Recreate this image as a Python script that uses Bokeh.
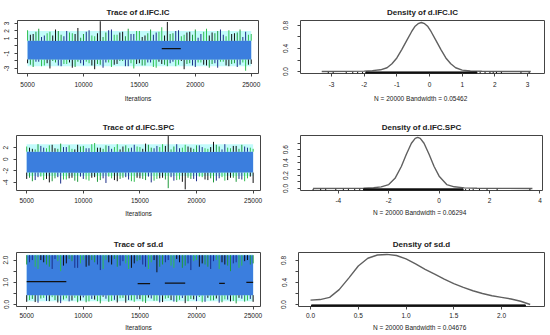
import numpy as np
from bokeh.plotting import figure
from bokeh.layouts import column, row
from bokeh.models import Range1d, FixedTicker
from bokeh.embed import file_html
from bokeh.resources import INLINE

FONT = "Liberation Sans"

# ---------------- data ----------------
ITER = list(range(5000, 25001, 500))            # sampled iterations (41)
ITER2 = list(range(5250, 24751, 500))           # in-between samples (40)
BAND_X = [5000, 10000, 15000, 20000, 25000]     # envelope sample points
TRACE_XTICKS = [5000, 10000, 15000, 20000, 25000]
TRACE_XLABELS = ["5000", "10000", "15000", "20000", "25000"]

# Trace of d.IFC.IC
IC_CYAN_TOP = [2.0, 2.0, 2.0, 2.0, 2.0]
IC_CYAN_BOT = [-2.7, -2.7, -2.7, -2.7, -2.7]
IC_BLUE_TOP = [0.7, 0.65, 0.7, 0.65, 0.7]
IC_BLUE_BOT = [-1.8, -1.85, -1.8, -1.85, -1.8]
IC_HI = [2.1, 1.6, 2.3, 1.4, 1.9, 2.2, 1.5, 2.0, 1.7, 2.4,
         1.6, 2.1, 1.3, 3.3, 1.8, 2.2, 1.5, 1.9, 2.3, 1.6,
         2.0, 1.4, 2.2, 1.8, 2.5, 3.2, 1.7, 2.1, 1.5, 1.9,
         2.2, 1.6, 2.3, 1.8, 2.0, 1.5, 2.1, 1.7, 2.2, 1.9,
         1.6]
IC_LO = [-2.3, -2.8, -2.1, -2.6, -3.0, -2.2, -2.7, -2.4, -2.9, -2.1,
         -2.6, -2.3, -3.1, -2.5, -2.2, -2.8, -2.4, -2.0, -2.7, -3.0,
         -2.3, -2.6, -2.2, -2.9, -2.4, -2.7, -2.1, -2.5, -3.1, -2.3,
         -2.8, -2.2, -2.6, -2.4, -2.9, -2.1, -2.7, -2.3, -2.5, -3.3,
         -2.4]
IC_HI2 = [1.5, 1.9, 1.2, 1.7, 1.4, 2.0, 1.3, 1.8, 1.6, 1.1,
          1.9, 1.4, 1.7, 1.2, 2.1, 1.5, 1.8, 1.3, 1.6, 2.0,
          1.2, 1.7, 1.5, 1.9, 1.4, 1.6, 2.0, 1.3, 1.8, 1.5,
          1.1, 1.9, 1.4, 1.7, 2.2, 1.3, 1.6, 1.8, 1.2, 1.5]
IC_LO2 = [-2.5, -2.1, -2.7, -2.3, -2.0, -2.6, -2.4, -2.2, -2.8, -2.3,
          -2.1, -2.6, -2.4, -2.9, -2.2, -2.5, -2.0, -2.7, -2.3, -2.4,
          -2.6, -2.2, -2.8, -2.1, -2.5, -2.3, -2.7, -2.0, -2.4, -2.6,
          -2.2, -2.5, -2.9, -2.3, -2.1, -2.6, -2.4, -2.8, -2.2, -2.5]
IC_FLAT_X0 = [17000]
IC_FLAT_X1 = [18700]
IC_FLAT_Y = [-0.35]
IC_TRACE_YTICKS = [-3, -2, -1, 0, 1, 2, 3]
IC_TRACE_YLABELS = ["-3", "", "-1", "", "1", "2", "3"]

# Trace of d.IFC.SPC
SPC_CYAN_TOP = [2.6, 2.6, 2.6, 2.6, 2.6]
SPC_CYAN_BOT = [-2.9, -2.9, -2.9, -2.9, -2.9]
SPC_BLUE_TOP = [1.3, 1.25, 1.3, 1.25, 1.3]
SPC_BLUE_BOT = [-2.3, -2.35, -2.3, -2.35, -2.3]
SPC_HI = [2.2, 1.8, 2.6, 2.0, 2.4, 1.9, 2.7, 2.1, 1.8, 2.5,
          2.3, 1.9, 2.8, 2.0, 2.4, 1.8, 2.6, 2.2, 1.9, 2.5,
          2.1, 2.7, 2.0, 2.3, 2.6, 4.0, 2.2, 1.9, 2.5, 2.0,
          2.4, 2.1, 1.8, 3.0, 2.2, 2.6, 1.9, 2.3, 2.5, 2.0,
          1.8]
SPC_LO = [-3.4, -3.8, -3.1, -3.6, -4.0, -3.3, -4.2, -3.5, -3.2, -3.9,
          -3.4, -3.7, -3.1, -3.6, -4.1, -3.3, -3.8, -3.2, -3.5, -3.9,
          -3.3, -3.6, -4.0, -3.4, -3.2, -5.0, -3.7, -3.5, -5.2, -3.4,
          -3.8, -3.1, -3.6, -4.0, -3.3, -3.7, -3.2, -3.9, -3.5, -3.3,
          -4.1]
SPC_HI2 = [2.0, 1.7, 2.3, 1.9, 2.5, 1.8, 2.1, 2.4, 1.7, 2.2,
           1.9, 2.6, 2.0, 1.8, 2.3, 2.1, 1.7, 2.4, 2.0, 2.2,
           1.8, 2.5, 1.9, 2.1, 2.3, 1.7, 2.6, 2.0, 2.2, 1.8,
           2.4, 1.9, 2.1, 2.5, 1.7, 2.0, 2.3, 1.8, 2.2, 2.0]
SPC_LO2 = [-3.2, -3.6, -3.0, -3.4, -3.8, -3.1, -3.5, -3.3, -3.7, -3.0,
           -3.5, -3.2, -3.9, -3.3, -3.0, -3.6, -3.4, -3.1, -3.8, -3.2,
           -3.4, -3.0, -3.7, -3.3, -3.5, -3.1, -3.6, -3.9, -3.2, -3.4,
           -3.0, -3.5, -3.3, -3.7, -3.1, -3.6, -3.2, -3.4, -3.8, -3.0]
SPC_TRACE_YTICKS = [-4, -2, 0, 2]
SPC_TRACE_YLABELS = ["-4", "-2", "0", "2"]

# Trace of sd.d
SD_CYAN_TOP = [2.25, 2.25, 2.25, 2.25, 2.25]
SD_CYAN_BOT = [0.15, 0.15, 0.15, 0.15, 0.15]
SD_BLUE_TOP = [2.22, 2.22, 2.22, 2.22, 2.22]
SD_BLUE_BOT = [0.42, 0.40, 0.42, 0.40, 0.42]
SD_DIP = [1.8, 2.0, 1.6, 1.9, 1.7, 2.05, 1.5, 1.85, 1.95, 1.65,
          2.0, 1.75, 1.9, 1.55, 2.0, 1.8, 1.7, 1.95, 1.6, 1.85,
          2.0, 1.7, 1.9, 1.45, 1.8, 2.0, 1.65, 1.9, 1.75, 1.55,
          2.0, 1.85, 1.7, 1.95, 1.6, 1.8, 1.5, 1.9, 1.75, 2.0,
          1.85]
SD_LO = [0.12, 0.25, 0.08, 0.30, 0.15, 0.20, 0.06, 0.28, 0.18, 0.10,
         0.32, 0.14, 0.22, 0.05, 0.26, 0.16, 0.09, 0.30, 0.20, 0.12,
         0.24, 0.07, 0.27, 0.17, 0.11, 0.29, 0.13, 0.21, 0.06, 0.25,
         0.15, 0.10, 0.30, 0.19, 0.08, 0.23, 0.14, 0.05, 0.26, 0.18,
         0.12]
SD_DIP2 = [1.9, 1.7, 2.0, 1.8, 1.6, 1.95, 1.75, 2.05, 1.65, 1.85,
           1.7, 2.0, 1.8, 1.6, 1.9, 2.05, 1.75, 1.85, 1.65, 1.95,
           1.8, 1.6, 2.0, 1.7, 1.9, 1.75, 2.05, 1.65, 1.85, 1.95,
           1.7, 1.8, 1.6, 2.0, 1.9, 1.75, 1.85, 1.65, 1.95, 1.8]
SD_LO2 = [0.20, 0.11, 0.27, 0.16, 0.33, 0.09, 0.22, 0.14, 0.30, 0.18,
          0.10, 0.25, 0.15, 0.35, 0.12, 0.21, 0.28, 0.08, 0.19, 0.24,
          0.13, 0.31, 0.17, 0.09, 0.26, 0.20, 0.11, 0.29, 0.15, 0.23,
          0.34, 0.12, 0.18, 0.27, 0.10, 0.22, 0.16, 0.30, 0.13, 0.25]
SD_FLAT_X0 = [5000, 14800, 17200, 22000, 24400]
SD_FLAT_X1 = [8500, 15900, 19000, 22500, 25000]
SD_FLAT_Y = [1.03, 0.94, 0.96, 0.95, 1.0]
SD_TRACE_YTICKS = [0.0, 0.5, 1.0, 1.5, 2.0]
SD_TRACE_YLABELS = ["0.0", "", "1.0", "", "2.0"]

# Density of d.IFC.IC
IC_DX = [-3.3, -2.5, -2.0, -1.75, -1.5, -1.3, -1.15, -1.0, -0.85, -0.7, -0.55, -0.45, -0.35,
         -0.25, -0.15, -0.05, 0.05, 0.2, 0.35, 0.5, 0.65, 0.8, 1.0, 1.25, 1.6, 2.2, 3.1]
IC_DY = [0.0, 0.002, 0.008, 0.015, 0.03, 0.066, 0.135, 0.236, 0.38, 0.535, 0.69, 0.78, 0.83,
         0.85, 0.83, 0.78, 0.69, 0.535, 0.38, 0.236, 0.135, 0.066, 0.025, 0.01, 0.004, 0.001, 0.0]
IC_RUG = [-3.1, -2.95, -2.55, -2.35, -2.2, -2.05, 1.55, 1.7, 1.85, 1.95, 2.05, 2.2, 2.8, 3.05]
IC_RUG_DENSE = [-1.95, 1.45]
IC_DENS_XTICKS = [-3, -2, -1, 0, 1, 2, 3]
IC_DENS_XLABELS = ["-3", "-2", "-1", "0", "1", "2", "3"]
IC_DENS_YTICKS = [0.0, 0.2, 0.4, 0.6, 0.8]
IC_DENS_YLABELS = ["0.0", "", "0.4", "", "0.8"]
IC_N_LABEL = "N = 20000   Bandwidth = 0.05462"

# Density of d.IFC.SPC
SPC_DX = [-5.0, -3.5, -3.0, -2.6, -2.3, -2.0, -1.75, -1.5, -1.3, -1.1, -0.95, -0.85,
          -0.75, -0.6, -0.4, -0.2, 0.0, 0.3, 0.6, 1.0, 1.5, 2.5, 3.7]
SPC_DY = [0.0, 0.001, 0.004, 0.01, 0.025, 0.06, 0.156, 0.34, 0.53, 0.70, 0.775, 0.79,
          0.775, 0.70, 0.53, 0.34, 0.19, 0.06, 0.025, 0.008, 0.003, 0.001, 0.0]
SPC_RUG = [-5.0, -4.7, -4.5, -4.1, -3.8, -3.6, -3.35, -3.15, 1.05, 1.2, 1.35, 1.6, 1.9, 2.3, 3.6]
SPC_RUG_DENSE = [-3.0, 0.95]
SPC_DENS_XTICKS = [-4, -2, 0, 2, 4]
SPC_DENS_XLABELS = ["-4", "-2", "0", "2", "4"]
SPC_DENS_YTICKS = [0.0, 0.1, 0.2, 0.3, 0.4, 0.5, 0.6, 0.7]
SPC_DENS_YLABELS = ["0.0", "", "0.2", "", "0.4", "", "0.6", ""]
SPC_N_LABEL = "N = 20000   Bandwidth = 0.06294"

# Density of sd.d
SD_DX = [0.0, 0.1, 0.2, 0.3, 0.4, 0.5, 0.6, 0.7, 0.8, 0.9, 1.0, 1.1, 1.2, 1.3, 1.4,
         1.5, 1.6, 1.7, 1.8, 1.9, 2.0, 2.1, 2.2, 2.3]
SD_DY = [0.08, 0.09, 0.13, 0.27, 0.48, 0.70, 0.84, 0.90, 0.91, 0.89, 0.83, 0.74, 0.64, 0.55,
         0.46, 0.38, 0.31, 0.25, 0.20, 0.16, 0.13, 0.10, 0.06, 0.0]
SD_RUG = []
SD_RUG_DENSE = [0.01, 2.25]
SD_DENS_XTICKS = [0.0, 0.5, 1.0, 1.5, 2.0]
SD_DENS_XLABELS = ["0.0", "0.5", "1.0", "1.5", "2.0"]
SD_DENS_YTICKS = [0.0, 0.2, 0.4, 0.6, 0.8]
SD_DENS_YLABELS = ["0.0", "", "0.4", "", "0.8"]
SD_N_LABEL = "N = 20000   Bandwidth = 0.04676"

# ---------------- style ----------------
CYAN = "#c2fbfb"
BLUE = "#3b7ede"
SPIKE_COLORS = ["#2fbf4f", "#111111", "#1f9a3c", "#1c2f8a"]
TEXT = "#222222"
BOX = "#444444"


def make_fig(title, w, h, xr, yr, borders, xticks, xlabels, yticks, ylabels, xlabel,
             ystand, xstand, lstand):
    bl, br, bt, bb = borders
    p = figure(width=w, height=h, x_range=Range1d(*xr), y_range=Range1d(*yr),
               output_backend="svg", toolbar_location=None,
               min_border_left=bl, min_border_right=br, min_border_top=bt, min_border_bottom=bb)
    p.title.text = title
    p.title.align = "center"
    p.title.text_font = FONT
    p.title.text_font_size = "8px"
    p.title.text_font_style = "bold"
    p.title.text_color = TEXT
    p.title.standoff = 7
    p.grid.visible = False
    p.outline_line_color = BOX
    p.outline_line_width = 1
    for ax in (p.xaxis[0], p.yaxis[0]):
        ax.axis_line_color = None
        ax.major_tick_line_color = BOX
        ax.major_tick_out = 3
        ax.major_tick_in = 0
        ax.minor_tick_line_color = None
        ax.major_label_text_font = FONT
        ax.major_label_text_font_size = "6.5px"
        ax.major_label_text_color = TEXT
    p.xaxis.ticker = FixedTicker(ticks=xticks)
    p.xaxis.major_label_overrides = {t: l for t, l in zip(xticks, xlabels)}
    p.xaxis.major_label_standoff = xstand
    p.xaxis.axis_label = xlabel
    p.xaxis.axis_label_text_font = FONT
    p.xaxis.axis_label_text_font_size = "6.5px"
    p.xaxis.axis_label_text_font_style = "normal"
    p.xaxis.axis_label_text_color = TEXT
    p.xaxis.axis_label_standoff = lstand
    p.yaxis.ticker = FixedTicker(ticks=yticks)
    p.yaxis.major_label_overrides = {t: l for t, l in zip(yticks, ylabels)}
    p.yaxis.major_label_orientation = "vertical"
    p.yaxis.major_label_standoff = ystand
    return p


def spikes(p, xs, edge_vals, ends, shift):
    edge = np.interp(xs, BAND_X, edge_vals)
    cols = [SPIKE_COLORS[(i + shift) % len(SPIKE_COLORS)] for i in range(len(xs))]
    p.segment(x0=xs, y0=edge, x1=xs, y1=ends, line_color=cols, line_width=1)


def draw_trace(p, cyan_top, cyan_bot, blue_top, blue_bot, hi, lo, hi2, lo2):
    p.varea(x=BAND_X, y1=cyan_bot, y2=cyan_top, fill_color=CYAN)
    p.varea(x=BAND_X, y1=blue_bot, y2=blue_top, fill_color=BLUE)
    spikes(p, ITER, blue_top, hi, 0)
    spikes(p, ITER2, blue_top, hi2, 1)
    spikes(p, ITER, blue_bot, lo, 1)
    spikes(p, ITER2, blue_bot, lo2, 2)


def draw_density(p, dx, dy, rug, dense, ymin, yspan):
    p.line(dx, dy, line_color="#606060", line_width=1.4)
    h = 0.03 * yspan
    if rug:
        p.segment(x0=rug, y0=[ymin] * len(rug), x1=rug, y1=[ymin + h] * len(rug),
                  line_color="#111111", line_width=1)
    p.quad(left=[dense[0]], right=[dense[1]], bottom=[ymin], top=[ymin + h],
           fill_color="#111111", line_color="#111111")


TRACE_XR = (4100, 25650)
W = 274

# Row 1
p1 = make_fig("Trace of d.IFC.IC", W, 110, TRACE_XR, (-3.67, 3.4), (17, 16, 20, 37),
              TRACE_XTICKS, TRACE_XLABELS, IC_TRACE_YTICKS, IC_TRACE_YLABELS, "Iterations", 5, 5, 5)
draw_trace(p1, IC_CYAN_TOP, IC_CYAN_BOT, IC_BLUE_TOP, IC_BLUE_BOT, IC_HI, IC_LO, IC_HI2, IC_LO2)
p1.segment(x0=IC_FLAT_X0, x1=IC_FLAT_X1, y0=IC_FLAT_Y, y1=IC_FLAT_Y, line_color="#111111", line_width=1.2)

p2 = make_fig("Density of d.IFC.IC", W, 110, (-3.95, 3.52), (-0.034, 0.885), (26, 4, 20, 36),
              IC_DENS_XTICKS, IC_DENS_XLABELS, IC_DENS_YTICKS, IC_DENS_YLABELS, IC_N_LABEL, 9, 5, 5)
draw_density(p2, IC_DX, IC_DY, IC_RUG, IC_RUG_DENSE, -0.034, 0.919)

# Row 2
p3 = make_fig("Trace of d.IFC.SPC", W, 110, TRACE_XR, (-5.4, 4.1), (16, 14, 25, 30),
              TRACE_XTICKS, TRACE_XLABELS, SPC_TRACE_YTICKS, SPC_TRACE_YLABELS, "Iterations", 5, 4, 4)
draw_trace(p3, SPC_CYAN_TOP, SPC_CYAN_BOT, SPC_BLUE_TOP, SPC_BLUE_BOT, SPC_HI, SPC_LO, SPC_HI2, SPC_LO2)

p4 = make_fig("Density of d.IFC.SPC", W, 110, (-5.5, 4.1), (-0.032, 0.82), (26, 6, 25, 30),
              SPC_DENS_XTICKS, SPC_DENS_XLABELS, SPC_DENS_YTICKS, SPC_DENS_YLABELS, SPC_N_LABEL, 9, 4, 3)
draw_density(p4, SPC_DX, SPC_DY, SPC_RUG, SPC_RUG_DENSE, -0.032, 0.852)

# Row 3
p5 = make_fig("Trace of sd.d", W, 114, TRACE_XR, (-0.09, 2.34), (16, 14, 30, 27),
              TRACE_XTICKS, TRACE_XLABELS, SD_TRACE_YTICKS, SD_TRACE_YLABELS, "Iterations", 5, 3, 3)
p5.varea(x=BAND_X, y1=SD_CYAN_BOT, y2=SD_CYAN_TOP, fill_color=CYAN)
p5.varea(x=BAND_X, y1=SD_BLUE_BOT, y2=SD_BLUE_TOP, fill_color=BLUE)
spikes(p5, ITER, SD_BLUE_TOP, SD_DIP, 2)
spikes(p5, ITER2, SD_BLUE_TOP, SD_DIP2, 3)
spikes(p5, ITER, SD_BLUE_BOT, SD_LO, 1)
spikes(p5, ITER2, SD_BLUE_BOT, SD_LO2, 0)
p5.segment(x0=SD_FLAT_X0, x1=SD_FLAT_X1, y0=SD_FLAT_Y, y1=SD_FLAT_Y, line_color="#111111", line_width=1.2)

p6 = make_fig("Density of sd.d", W, 114, (-0.126, 2.45), (-0.036, 0.945), (24, 4, 32, 28),
              SD_DENS_XTICKS, SD_DENS_XLABELS, SD_DENS_YTICKS, SD_DENS_YLABELS, SD_N_LABEL, 9, 3, 3)
draw_density(p6, SD_DX, SD_DY, SD_RUG, SD_RUG_DENSE, -0.036, 0.981)

layout = column(row(p1, p2), row(p3, p4), row(p5, p6))
open("out.html", "w").write(file_html(layout, INLINE))
